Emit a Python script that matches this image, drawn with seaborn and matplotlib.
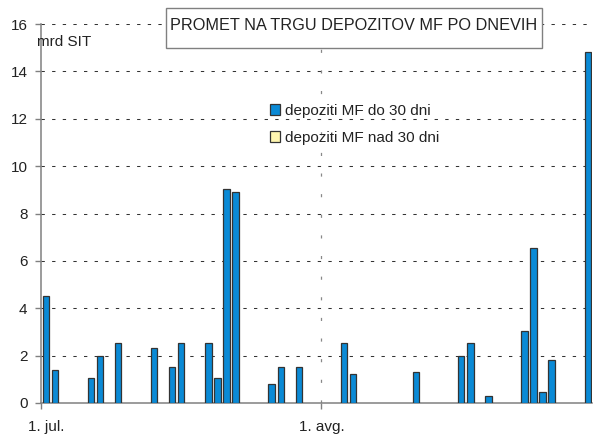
import pandas as pd
import matplotlib
matplotlib.use('Agg')
import matplotlib.pyplot as plt
import matplotlib.patches as mpatches
import matplotlib.transforms as mtransforms
import seaborn as sns

# Podatki: dnevni promet depozitov MF (mrd SIT)
dnevi = ['1999-07-01', '1999-07-02', '1999-07-06', '1999-07-07', '1999-07-09',
         '1999-07-13', '1999-07-15', '1999-07-16', '1999-07-19', '1999-07-20',
         '1999-07-21', '1999-07-22', '1999-07-26', '1999-07-27', '1999-07-29',
         '1999-08-03', '1999-08-04', '1999-08-11', '1999-08-16', '1999-08-17',
         '1999-08-19', '1999-08-23', '1999-08-24', '1999-08-25', '1999-08-26',
         '1999-08-30']
do_30_dni = [4.52, 1.38, 1.04, 2.0, 2.55, 2.32, 1.5, 2.54, 2.55, 1.04,
             9.05, 8.9, 0.82, 1.5, 1.5, 2.55, 1.24, 1.3, 2.0, 2.55,
             0.28, 3.02, 6.55, 0.48, 1.8, 14.8]
vsi_dnevi = pd.date_range('1999-07-01', '1999-08-30').strftime('%Y-%m-%d').tolist()
oznake_x = ['1. jul.', '1. avg.']
serije = ['depoziti MF do 30 dni', 'depoziti MF nad 30 dni']
barve = ['#0A8AD6', '#FFF6B0']

df = pd.DataFrame({'dan': dnevi, 'promet': do_30_dni})

sns.set_style('white')
plt.rcParams['font.family'] = ['Liberation Sans', 'DejaVu Sans']

fig = plt.figure(figsize=(6, 4.34), dpi=100)
ax = fig.add_axes([41.3 / 600, 31 / 434, 551 / 600, 379 / 434])

sns.barplot(data=df, x='dan', y='promet', order=vsi_dnevi, color=barve[0],
            saturation=1, width=0.7, edgecolor='#333333', linewidth=0.9,
            ax=ax, zorder=3)

ax.set_xlim(-0.5, len(vsi_dnevi) - 0.5)
ax.set_ylim(0, 16)
ax.set_yticks(range(0, 17, 2))
ax.set_xticks([-0.5, vsi_dnevi.index('1999-08-01') - 0.5])
ax.set_xticklabels(oznake_x)
ax.set_xlabel('')
ax.set_ylabel('')

# mreža
for y in range(2, 17, 2):
    ax.axhline(y, color='#333333', lw=0.75, ls=(0, (3.2, 7)), zorder=1)
ax.axvline(vsi_dnevi.index('1999-08-01') - 0.5, color='#888888', lw=0.9,
           ls=(0, (2.5, 14)), zorder=1)

for s in ['top', 'right']:
    ax.spines[s].set_visible(False)
for s in ['left', 'bottom']:
    ax.spines[s].set_color('#808080')
    ax.spines[s].set_linewidth(1.1)

ax.tick_params(axis='y', left=True, length=4, width=1, color='#808080',
               labelsize=11, labelcolor='#222222', pad=6)
ax.tick_params(axis='x', bottom=True, length=4, width=1, color='#808080',
               labelsize=11, labelcolor='#222222', pad=8)
prvi = ax.get_xticklabels()[0]
prvi.set_transform(prvi.get_transform() +
                   mtransforms.ScaledTranslation(5 / 100, 0, fig.dpi_scale_trans))

fig.text(37 / 600, 1 - 42 / 434, 'mrd SIT', fontsize=11, color='#222222',
         va='center', ha='left')

# naslov v okvirju
okvir = mpatches.Rectangle((166 / 600, 1 - 48 / 434), 376 / 600, 40 / 434,
                           transform=fig.transFigure, facecolor='white',
                           edgecolor='#808080', lw=1, zorder=5)
fig.add_artist(okvir)
fig.text(170 / 600, 1 - 25 / 434, 'PROMET NA TRGU DEPOZITOV MF PO DNEVIH',
         fontsize=11.7, color='#222222', va='center', ha='left', zorder=6)

rocke = [mpatches.Patch(facecolor=barve[i], edgecolor='#333333', lw=0.9,
                        label=serije[i]) for i in range(2)]
ax.legend(handles=rocke, loc='upper left', bbox_to_anchor=(262 / 600, 1 - 96 / 434),
          bbox_transform=fig.transFigure, frameon=False, fontsize=11,
          handlelength=0.7, handleheight=0.7, handletextpad=0.3,
          labelspacing=0.85, borderpad=0, labelcolor='#222222')

fig.savefig('out.png', dpi=100)
